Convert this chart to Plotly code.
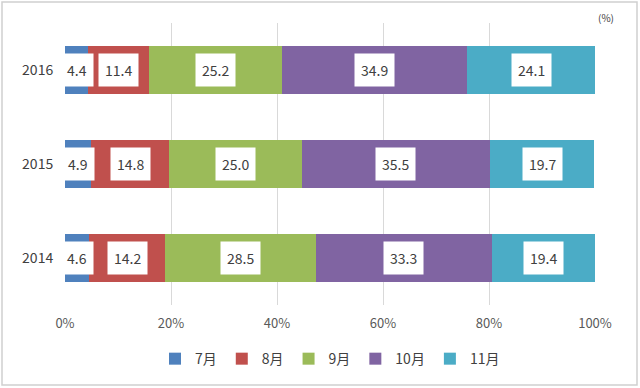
import plotly.graph_objects as go

years = ["2014", "2015", "2016"]
months = ["7月", "8月", "9月", "10月", "11月"]
values = {
    "7月": [4.6, 4.9, 4.4],
    "8月": [14.2, 14.8, 11.4],
    "9月": [28.5, 25.0, 25.2],
    "10月": [33.3, 35.5, 34.9],
    "11月": [19.4, 19.7, 24.1],
}
colors = ["#4F81BD", "#C0504D", "#9BBB59", "#8064A2", "#4BACC6"]
xticks = [0, 20, 40, 60, 80, 100]
xticklabels = ["0%", "20%", "40%", "60%", "80%", "100%"]

FONT = "Noto Sans CJK JP"
ypos = list(range(len(years)))
fig = go.Figure()
for m, c in zip(months, colors):
    fig.add_trace(go.Bar(y=ypos, x=values[m], name=m, orientation="h", width=0.52,
                         marker=dict(color=c, line=dict(width=0)),
                         hoverinfo="x+name"))

annots = []
for i in ypos:
    cum = 0
    for m in months:
        v = values[m][i]
        annots.append(dict(x=cum + v / 2, y=i, xref="x", yref="y", text=f"{v:.1f}",
                           showarrow=False, bgcolor="white", borderpad=6,
                           font=dict(family=FONT, size=14, color="#404040")))
        cum += v
annots.append(dict(x=1.02, y=0.985, xref="paper", yref="paper", text="(%)",
                   showarrow=False, xanchor="center", yanchor="bottom",
                   font=dict(family=FONT, size=10, color="#404040")))

L, R, T, B = 65, 45, 23, 83
W, H = 640, 388
pw, ph = W - L - R, H - T - B

fig.update_layout(
    barmode="stack",
    width=W, height=H,
    margin=dict(l=L, r=R, t=T, b=B, autoexpand=False),
    paper_bgcolor="white", plot_bgcolor="white",
    font=dict(family=FONT, size=14, color="#404040"),
    annotations=annots,
    shapes=[dict(type="rect", xref="paper", yref="paper",
                 x0=(2 - L) / pw, x1=(637 - L) / pw,
                 y0=(H - B - 385) / ph, y1=(H - B - 2) / ph,
                 line=dict(color="#D0D0D0", width=1.5), layer="below")],
    legend=dict(orientation="h", x=0.5, xanchor="center", y=-0.135, yanchor="top",
                itemwidth=30, traceorder="normal",
                font=dict(family=FONT, size=14, color="#404040")),
    xaxis=dict(range=[0, 100], tickvals=xticks, ticktext=xticklabels,
               showgrid=True, gridcolor="#D9D9D9", gridwidth=1, zeroline=False,
               showline=False, ticks="outside", ticklen=6, tickcolor="rgba(0,0,0,0)",
               automargin=False,
               tickfont=dict(family=FONT, size=13, color="#595959")),
    yaxis=dict(range=[-0.5, 2.5], tickvals=ypos, ticktext=years,
               showgrid=False, showline=False, zeroline=False,
               ticks="outside", ticklen=8, tickcolor="rgba(0,0,0,0)",
               automargin=False,
               tickfont=dict(family=FONT, size=14, color="#404040")),
)
fig.write_html("out.html", config={"displayModeBar": False},
               post_script="document.body.style.margin='0';")
